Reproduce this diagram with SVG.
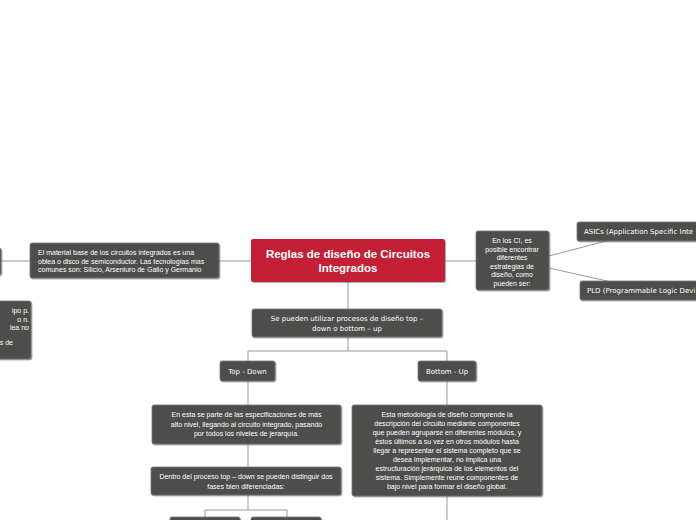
<svg xmlns="http://www.w3.org/2000/svg" width="696" height="520" viewBox="0 0 696 520">
<defs><style>
.n{fill:#4d4d4c;stroke:#777;stroke-width:0.8;filter:drop-shadow(1px 1.5px 0.5px rgba(0,0,0,0.35))}
.t{font-family:"Liberation Sans",Arial,sans-serif;font-size:7px;fill:#fff}
.v{font-family:Verdana,"DejaVu Sans",sans-serif;font-size:7px;fill:#fff}
.l{stroke:#999;stroke-width:1;fill:none}
</style></defs>
<rect width="696" height="520" fill="#fff"/>
<g id="connectors">
<path class="l" d="M0 261H30M219 261H251M445 261H476M549 256L610 240M549 268L625 285M348 282V309M348 337V351M248 351H447M248 351V361M447 351V361M248 381V405M447 381V405M248 444V467M248 495V510M205 510H287M205 510V517M287 510V517M447 496V520"/>
</g>
<g id="central"><rect x="251" y="239" width="194" height="43" rx="2" fill="#c41f35" filter="drop-shadow(1px 1.5px 0.5px rgba(0,0,0,0.3))"/>
<text x="348" y="258" text-anchor="middle" font-family="'Liberation Sans',Arial,sans-serif" font-weight="bold" font-size="11.5" fill="#fff">Reglas de diseño de Circuitos</text>
<text x="348" y="272" text-anchor="middle" font-family="'Liberation Sans',Arial,sans-serif" font-weight="bold" font-size="11.5" fill="#fff">Integrados</text></g>
<g id="leftcut1"><rect class="n" x="-10" y="248" width="11" height="27" rx="2"/></g>
<g id="leftcut2"><rect class="n" x="-10" y="301" width="41" height="58" rx="2"/>
<text class="t" x="29" y="313" text-anchor="end">ipo p.</text><text class="t" x="29" y="322" text-anchor="end">o n.</text><text class="t" x="29" y="330" text-anchor="end">lea no</text><text class="t" x="13" y="345" text-anchor="end">s de</text></g>
<g id="material"><rect class="n" x="30" y="243" width="189" height="35" rx="2"/>
<text class="t" x="38" y="255">El material base de los circuitos integrados es una</text>
<text class="t" x="38" y="263.5">oblea o disco de semiconductor. Las tecnologías mas</text>
<text class="t" x="38" y="272">comunes son: Silicio, Arseniuro de Galio y Germanio</text></g>
<g id="estrategias"><rect class="n" x="476" y="231" width="73" height="59" rx="2"/>
<g class="t" text-anchor="middle"><text x="512" y="243">En los CI, es</text><text x="512" y="251.5">posible encontrar</text><text x="512" y="260">diferentes</text><text x="512" y="268.5">estrategias de</text><text x="512" y="277">diseño, como</text><text x="512" y="285.5">pueden ser:</text></g></g>
<g id="asics"><rect class="n" x="577" y="222" width="130" height="19" rx="2"/><text class="v" x="584" y="234">ASICs (Application Specific Inte</text></g>
<g id="pld"><rect class="n" x="580" y="281" width="126" height="19" rx="2"/><text class="v" x="587" y="293">PLD (Programmable Logic Devi</text></g>
<g id="procesos"><rect class="n" x="252" y="309" width="190" height="28" rx="2"/>
<text class="v" x="347" y="321" text-anchor="middle">Se pueden utilizar procesos de diseño top –</text>
<text class="v" x="347" y="330.5" text-anchor="middle">down o bottom – up</text></g>
<g id="topdown"><rect class="n" x="220" y="361" width="55" height="20" rx="2"/><text class="v" x="247.5" y="373.5" text-anchor="middle">Top - Down</text></g>
<g id="bottomup"><rect class="n" x="418" y="361" width="58" height="20" rx="2"/><text class="v" x="447" y="373.5" text-anchor="middle">Bottom - Up</text></g>
<g id="enesta"><rect class="n" x="152" y="405" width="189" height="39" rx="2"/>
<g class="t" text-anchor="middle"><text x="246.5" y="417">En esta se parte de las especificaciones de más</text><text x="246.5" y="426.5">alto nivel, llegando al circuito integrado, pasando</text><text x="246.5" y="436">por todos los niveles de jerarquía.</text></g></g>
<g id="dentro"><rect class="n" x="151" y="467" width="190" height="28" rx="2"/>
<g class="t" text-anchor="middle"><text x="246" y="479">Dentro del proceso top – down se pueden distinguir dos</text><text x="246" y="488.5">fases bien diferenciadas:</text></g></g>
<g id="metodologia"><rect class="n" x="352" y="405" width="190" height="91" rx="2"/>
<g class="t" text-anchor="middle"><text x="447" y="417">Esta metodología de diseño comprende la</text><text x="447" y="426">descripción del circuito mediante componentes</text><text x="447" y="435">que pueden agruparse en diferentes módulos, y</text><text x="447" y="444">éstos últimos a su vez en otros módulos hasta</text><text x="447" y="453">llegar a representar el sistema completo que se</text><text x="447" y="462">desea implementar, no implica una</text><text x="447" y="471">estructuración jerárquica de los elementos del</text><text x="447" y="480">sistema. Simplemente reúne componentes de</text><text x="447" y="489">bajo nivel para formar el diseño global.</text></g></g>
<g id="fase1"><rect class="n" x="170" y="517" width="70" height="10" rx="2"/></g>
<g id="fase2"><rect class="n" x="251" y="517" width="70" height="10" rx="2"/></g>
</svg>
